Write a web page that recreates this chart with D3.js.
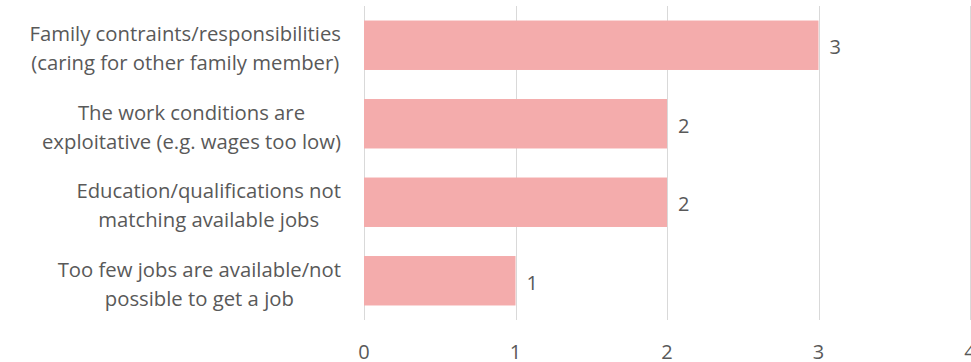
<!DOCTYPE html>
<html><head><meta charset="utf-8">
<script src="https://cdn.jsdelivr.net/npm/d3@7"></script>
<style>body{margin:0;background:#fff}svg{display:block}text{font-family:"Open Sans",sans-serif;fill:#595959}</style>
</head><body><svg id="c" width="971" height="362"></svg>
<script>
const categories = [
  ["Family contraints/responsibilities","(caring for other family member)"],
  ["The work conditions are","exploitative (e.g. wages too low)"],
  ["Education/qualifications not","matching available jobs"],
  ["Too few jobs are available/not","possible to get a job"]
];
const values = [3, 2, 2, 1];
const tickValues = [0, 1, 2, 3, 4];

const svg = d3.select("#c");
const x = d3.scaleLinear().domain([0, 4]).range([364, 970]);
const y = d3.scaleBand().domain(d3.range(categories.length)).range([6, 320]).paddingInner(0.37).paddingOuter(0.185);

svg.append("g").selectAll("line").data(tickValues).join("line")
  .attr("x1", d => Math.round(x(d)) + 0.5).attr("x2", d => Math.round(x(d)) + 0.5)
  .attr("y1", 6).attr("y2", 320).attr("stroke", "#d9d9d9").attr("stroke-width", 1);

svg.append("g").selectAll("rect").data(values).join("rect")
  .attr("x", x(0)).attr("y", (d, i) => y(i))
  .attr("width", d => x(d) - x(0)).attr("height", y.bandwidth())
  .attr("fill", "#f4acac");

svg.append("g").selectAll("text").data(values).join("text")
  .attr("x", d => x(d) + 11).attr("y", (d, i) => y(i) + y.bandwidth() / 2 + 9)
  .attr("font-size", 20).text(d => d);

svg.append("g").selectAll("text").data(tickValues).join("text")
  .attr("x", d => x(d)).attr("y", 359)
  .attr("text-anchor", "middle").attr("font-size", 20).text(d => d);

const fs = 20.3;
const catG = svg.append("g");
categories.forEach((lines, i) => {
  const t = catG.append("text").attr("font-size", fs).attr("text-anchor", "middle");
  const spans = t.selectAll("tspan").data(lines).join("tspan").text(d => d);
  let maxw = 0;
  spans.each(function(){ maxw = Math.max(maxw, this.getComputedTextLength()); });
  const cx = 341 - maxw / 2;
  const cy = y(i) + y.bandwidth() / 2;
  spans.attr("x", cx).attr("y", (d, j) => cy - 4 + j * 29);
});
</script></body></html>
